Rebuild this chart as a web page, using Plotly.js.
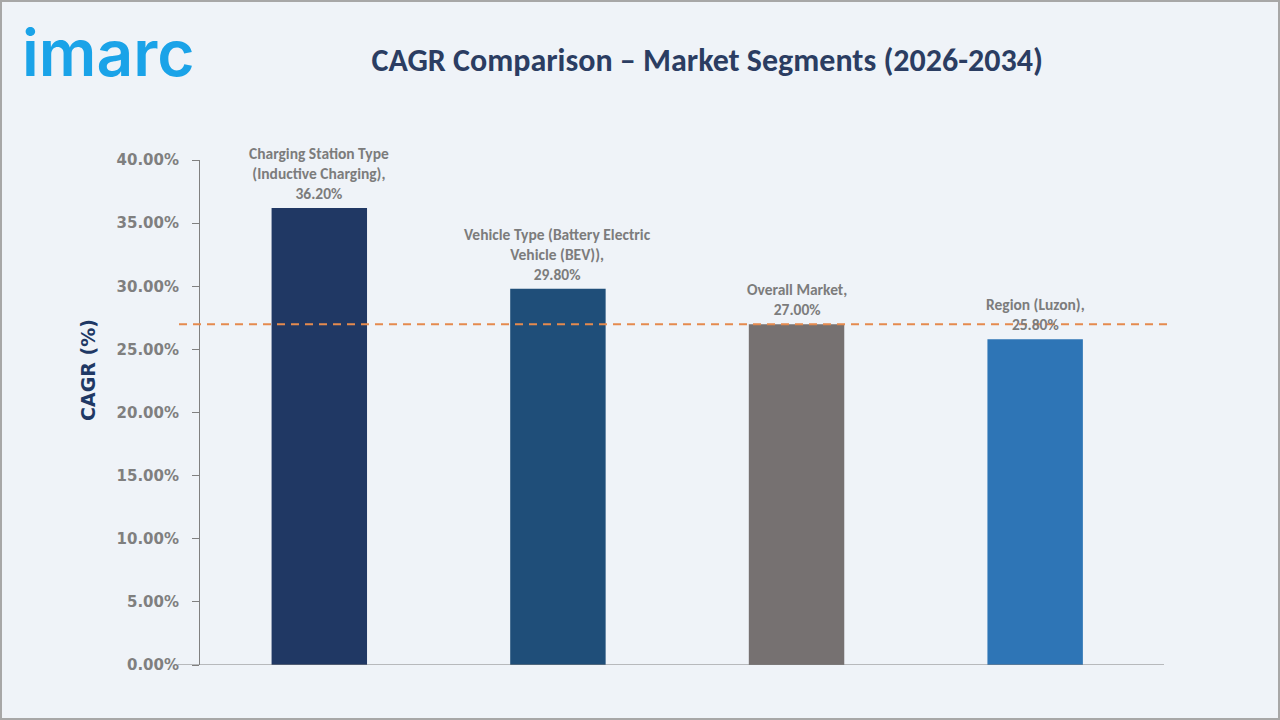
<!DOCTYPE html>
<html>
<head>
<meta charset="utf-8">
<script src="https://cdn.plot.ly/plotly-3.0.1.min.js"></script>
<style>
  html, body { margin: 0; padding: 0; background: #eff3f8; }
  #wrap { position: relative; width: 1280px; height: 720px; overflow: hidden; }
  #chart { position: absolute; left: 0; top: 0; width: 1280px; height: 720px; }
  #frame { position: absolute; left: 0; top: 0; width: 1280px; height: 720px;
           box-sizing: border-box; border: 2px solid #a7a7a7; pointer-events: none; }
</style>
</head>
<body>
<div id="wrap">
  <div id="chart"></div>
  <div id="frame"></div>
</div>
<script>
// Segment names, wrapped label text and CAGR values (%)
const categories = [
  "Charging Station Type (Inductive Charging)",
  "Vehicle Type (Battery Electric Vehicle (BEV))",
  "Overall Market",
  "Region (Luzon)"
];
const labelLines = [
  "Charging Station Type<br>(Inductive Charging)",
  "Vehicle Type (Battery Electric<br>Vehicle (BEV))",
  "Overall Market",
  "Region (Luzon)"
];
const cagrValues = [36.2, 29.8, 27.0, 25.8];
const barColors = ["#203864", "#1f4e79", "#767171", "#2e75b6"];
const overallMarketIndex = 2;
const yTickValues = [0, 5, 10, 15, 20, 25, 30, 35, 40];

const labelFont = "Carlito, Calibri, 'Liberation Sans', Arial, sans-serif";

const bars = {
  type: "bar",
  x: categories,
  y: cagrValues,
  width: 0.4,
  marker: { color: barColors },
  hoverinfo: "x+y"
};

const valueLabels = categories.map((c, i) => ({
  x: c,
  y: cagrValues[i],
  xref: "x",
  yref: "y",
  yanchor: "bottom",
  yshift: 3,
  showarrow: false,
  align: "center",
  text: labelLines[i] + ",<br>" + cagrValues[i].toFixed(2) + "%",
  font: { family: labelFont, size: 15.5, color: "#7c7c7c", weight: 700 }
}));

const layout = {
  width: 1280,
  height: 720,
  paper_bgcolor: "#eff3f8",
  plot_bgcolor: "#eff3f8",
  margin: { l: 200, r: 116, t: 160, b: 55 },
  showlegend: false,
  title: {
    text: "<b>CAGR Comparison – Market Segments (2026-2034)</b>",
    x: 0.5525,
    xanchor: "center",
    y: 0.917,
    yanchor: "middle",
    font: { family: labelFont, size: 32, color: "#2b3d62" }
  },
  xaxis: {
    type: "category",
    range: [-0.5, 3.54],
    showticklabels: false,
    ticks: "",
    showgrid: false,
    zeroline: false,
    showline: false,
    fixedrange: true
  },
  yaxis: {
    range: [0, 40],
    tickvals: yTickValues,
    ticktext: yTickValues.map(v => v.toFixed(2) + "%"),
    ticks: "outside",
    ticklen: 7,
    tickcolor: "#808080",
    tickwidth: 1,
    ticklabelstandoff: 10,
    tickfont: { family: "'DejaVu Sans', Verdana, sans-serif", size: 15, color: "#7f7f7f", weight: 700 },
    showgrid: false,
    zeroline: false,
    showline: true,
    linecolor: "#808080",
    linewidth: 1,
    fixedrange: true
  },
  shapes: [
    // baseline of the category axis
    {
      type: "line", xref: "paper", yref: "y",
      x0: -22 / 964, x1: 1, y0: 0, y1: 0,
      line: { color: "#808080", width: 1.2 }
    },
    // overall market reference line
    {
      type: "line", xref: "paper", yref: "y",
      x0: -21 / 964, x1: 1.004,
      y0: cagrValues[overallMarketIndex], y1: cagrValues[overallMarketIndex],
      line: { color: "#e58a4e", width: 2, dash: "8px,6px" }
    }
  ],
  annotations: valueLabels.concat([
    {
      text: "<b>CAGR (%)</b>",
      xref: "paper", yref: "paper",
      x: -112 / 964, y: (665 - 370) / 505,
      xanchor: "center", yanchor: "middle",
      textangle: -90,
      showarrow: false,
      font: { family: "'DejaVu Sans', Verdana, sans-serif", size: 19, color: "#203864" }
    },
    {
      text: "imarc",
      xref: "paper", yref: "paper",
      x: -180 / 964, y: (665 - 93) / 505,
      xanchor: "left", yanchor: "bottom",
      showarrow: false,
      font: { family: "Inter, 'Noto Sans', sans-serif", size: 64, color: "#1aa3e8", weight: 600 }
    }
  ])
};

Plotly.newPlot("chart", [bars], layout, { displayModeBar: false, staticPlot: true });
</script>
</body>
</html>
